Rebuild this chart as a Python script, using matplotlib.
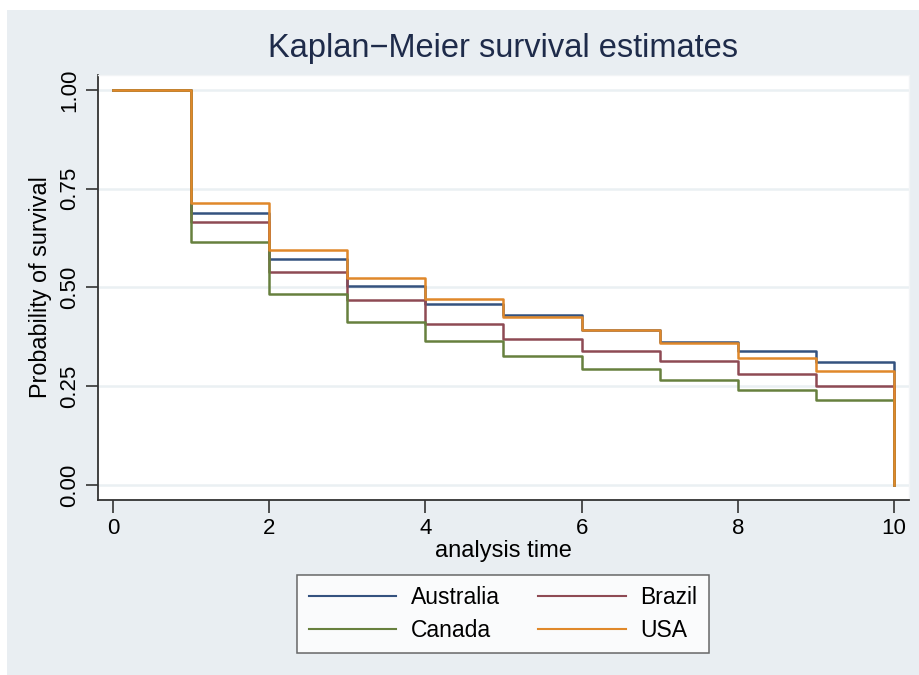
import numpy as np
import matplotlib.pyplot as plt
from matplotlib.patches import Rectangle

plt.rcParams["font.family"] = ["Liberation Sans", "DejaVu Sans"]

# analysis time and KM estimates
times = [0, 1, 2, 3, 4, 5, 6, 7, 8, 9, 10]
australia = [1.0, 0.688, 0.573, 0.505, 0.459, 0.430, 0.393, 0.361, 0.338, 0.312, 0.0]
brazil = [1.0, 0.666, 0.538, 0.468, 0.408, 0.369, 0.340, 0.315, 0.282, 0.251, 0.0]
canada = [1.0, 0.614, 0.484, 0.412, 0.365, 0.327, 0.294, 0.266, 0.241, 0.216, 0.0]
usa = [1.0, 0.715, 0.595, 0.523, 0.470, 0.426, 0.393, 0.359, 0.321, 0.289, 0.0]

series = [
    ("Australia", australia, "#34527f"),
    ("Brazil", brazil, "#8e4a54"),
    ("Canada", canada, "#67803e"),
    ("USA", usa, "#e0882a"),
]

W, H = 920, 675
BG = "#e9eef2"

fig = plt.figure(figsize=(W / 100, H / 100), dpi=100, facecolor="white")
# stata-ish light grey page, with the thin white screenshot margin
fig.patches.append(Rectangle((7 / W, 0), 1 - 7 / W, 1 - 10 / H,
                             transform=fig.transFigure, facecolor=BG,
                             edgecolor="none", zorder=-10))

ax = fig.add_axes([98 / W, 1 - 500 / H, (909 - 98) / W, (500 - 75) / H])
ax.set_facecolor("white")

handles = []
for name, vals, col in series:
    (ln,) = ax.step(times, vals, where="post", color=col, lw=1.8, label=name)
    handles.append(ln)

ax.set_xlim(-0.19, 10.19)
ax.set_ylim(-0.038, 1.038)
ax.set_xticks([0, 2, 4, 6, 8, 10])
ax.set_yticks([0, 0.25, 0.5, 0.75, 1.0])
ax.set_yticklabels(["0.00", "0.25", "0.50", "0.75", "1.00"], rotation=90, va="center")
ax.grid(axis="y", color="#eaf0f3", lw=1.8, zorder=0)
ax.set_axisbelow(True)

ax.tick_params(axis="both", direction="out", length=9, width=1.2,
               color="#333333", labelsize=16)
ax.tick_params(axis="y", pad=4)
ax.tick_params(axis="x", pad=4)

for s in ["top", "right"]:
    ax.spines[s].set_color("#f2f4f6")
    ax.spines[s].set_linewidth(1)
for s in ["left", "bottom"]:
    ax.spines[s].set_color("#333333")
    ax.spines[s].set_linewidth(1.3)

ax.set_xlabel("analysis time", fontsize=17, labelpad=1)
ax.set_ylabel("Probability of survival", fontsize=16.8, labelpad=5)
fig.text(503 / W, 1 - 48 / H, "Kaplan\u2212Meier survival estimates",
         ha="center", va="center", fontsize=23.5, color="#1e2b4a")

# legend order: Australia, Brazil / Canada, USA  (row-wise, 2 columns)
order = [handles[0], handles[2], handles[1], handles[3]]
leg = fig.legend(order, [h.get_label() for h in order], ncol=2,
                 loc="upper center", bbox_to_anchor=(503 / W, 1 - 575 / H),
                 fontsize=16.5, frameon=True, fancybox=False, handlelength=3.8,
                 handletextpad=0.65, columnspacing=1.7, labelspacing=0.4,
                 borderpad=0.5, borderaxespad=0)
leg.get_frame().set_edgecolor("#444444")
leg.get_frame().set_linewidth(1.1)
for ln in leg.get_lines():
    ln.set_linewidth(1.5)

fig.savefig("out.png", dpi=100, facecolor=fig.get_facecolor())
